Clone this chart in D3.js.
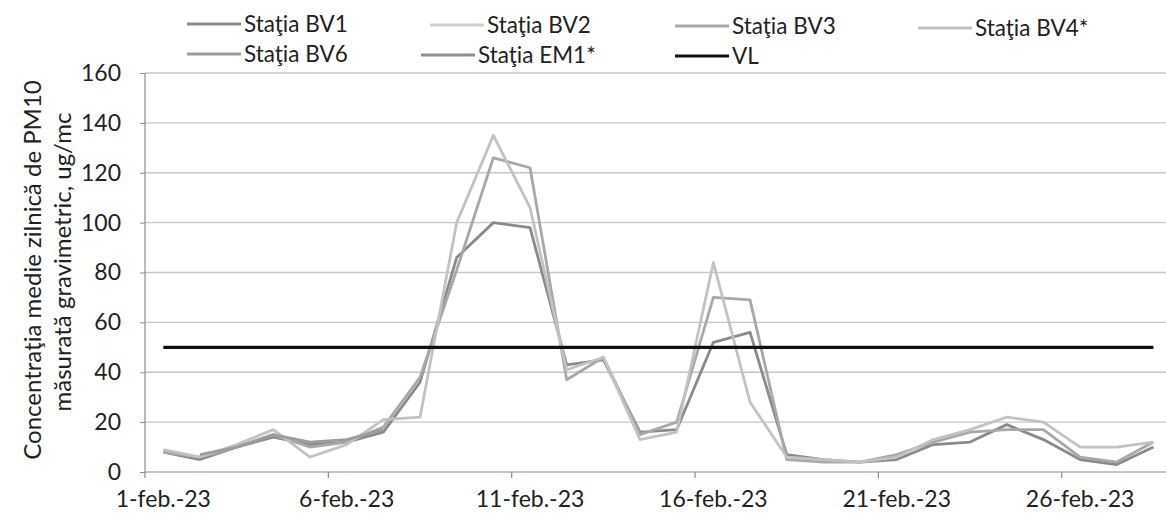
<!DOCTYPE html>
<html>
<head>
<meta charset="utf-8">
<script src="https://cdn.jsdelivr.net/npm/d3@7"></script>
<style>
  body { margin: 0; background: #fff; }
  svg { display: block; font-family: Lato, 'Open Sans', sans-serif; }
</style>
</head>
<body>
<div id="chart"></div>
<script>
const days = [
  '1-feb.-23', '2-feb.-23', '3-feb.-23', '4-feb.-23', '5-feb.-23', '6-feb.-23', '7-feb.-23',
  '8-feb.-23', '9-feb.-23', '10-feb.-23', '11-feb.-23', '12-feb.-23', '13-feb.-23', '14-feb.-23',
  '15-feb.-23', '16-feb.-23', '17-feb.-23', '18-feb.-23', '19-feb.-23', '20-feb.-23', '21-feb.-23',
  '22-feb.-23', '23-feb.-23', '24-feb.-23', '25-feb.-23', '26-feb.-23', '27-feb.-23', '28-feb.-23'
]
const labelDays = ['1-feb.-23', '6-feb.-23', '11-feb.-23', '16-feb.-23', '21-feb.-23', '26-feb.-23']
const yTicks = [0, 20, 40, 60, 80, 100, 120, 140, 160]

// daily PM10, ug/mc (null = no data)
const bv1 = [8, 5, 10, 14, 11, 12, 16, 36, 86, 100, 98, 43, 45, 16, 17, 52, 56, 7, 5, 4, 5, 11, 12, 19, 13, 5, 3, 10]
const bv2 = [null, null, null, null, null, null, null, null, null, null, null, null, null, null,
  null, null, null, null, null, null, null, null, null, null, null, null, null, null]
const bv3 = [8, 6, 10, 15, 10, 12, 18, 38, 81, 126, 122, 37, 46, 15, 20, 70, 69, 5, 4, 4, 7, 12, 16, 17, 17, 6, 4, 12]
const bv4 = [9, 6, 11, 17, 6, 11, 21, 22, 100, 135, 106, 41, 46, 13, 16, 84, 28, 6, 5, 4, 6, 13, 17, 22, 20, 10, 10, 12]
const bv6 = [null, 7, 10, 15, 12, 13, 17, null, null, null, null, null, null, null,
  null, null, null, null, null, null, null, null, null, null, null, null, null, null]
const em1 = [null, null, null, null, null, null, null, null, null, null, null, null, null, null,
  null, null, null, null, null, null, null, null, null, null, null, null, null, null]
const vl = [50, 50, 50, 50, 50, 50, 50, 50, 50, 50, 50, 50, 50, 50,
  50, 50, 50, 50, 50, 50, 50, 50, 50, 50, 50, 50, 50, 50]

const series = [
  { name: 'Staţia BV1', values: bv1, color: '#8a8a8a', width: 2.8 },
  { name: 'Staţia BV2', values: bv2, color: '#cfcfcf', width: 2.8 },
  { name: 'Staţia BV3', values: bv3, color: '#a8a8a8', width: 2.8 },
  { name: 'Staţia BV4*', values: bv4, color: '#c2c2c2', width: 2.8 },
  { name: 'Staţia BV6', values: bv6, color: '#9c9c9c', width: 2.8 },
  { name: 'Staţia EM1*', values: em1, color: '#8f8f8f', width: 2.8 },
  { name: 'VL', values: vl, color: '#111', width: 3.2 }
]

const width = 1166
const height = 529
const plot = { left: 145, top: 73, bottom: 472, right: 145 + 28 * 36.67 }

const svg = d3
  .select('#chart')
  .append('svg')
  .attr('width', width)
  .attr('height', height)

const xPositionScale = d3.scaleBand().domain(days).range([plot.left, plot.right])
const yPositionScale = d3.scaleLinear().domain([0, 160]).range([plot.bottom, plot.top])
const half = xPositionScale.bandwidth() / 2

// gridlines
svg
  .append('g')
  .selectAll('line')
  .data(yTicks.slice(1))
  .enter()
  .append('line')
  .attr('x1', plot.left)
  .attr('x2', width)
  .attr('y1', d => yPositionScale(d))
  .attr('y2', d => yPositionScale(d))
  .attr('stroke', '#c6c6c6')
  .attr('stroke-width', 1.3)

// y axis
const yAxis = d3.axisLeft(yPositionScale).tickValues(yTicks).tickSize(5).tickPadding(19)
svg
  .append('g')
  .attr('class', 'axis y-axis')
  .attr('transform', 'translate(' + plot.left + ',0)')
  .call(yAxis)

// x axis: labels at category centres, tick marks at category boundaries
const xAxis = d3.axisBottom(xPositionScale).tickValues(labelDays).tickSize(0).tickPadding(19)
svg
  .append('g')
  .attr('class', 'axis x-axis')
  .attr('transform', 'translate(0,' + plot.bottom + ')')
  .call(xAxis)

svg
  .append('g')
  .selectAll('line')
  .data(labelDays)
  .enter()
  .append('line')
  .attr('x1', d => xPositionScale(d))
  .attr('x2', d => xPositionScale(d))
  .attr('y1', plot.bottom)
  .attr('y2', plot.bottom + 6)
  .attr('stroke', '#8c8c8c')
  .attr('stroke-width', 1.2)

svg.selectAll('.axis .domain').attr('stroke', '#8c8c8c').attr('stroke-width', 1.2)
svg.selectAll('.y-axis .domain').attr('d', 'M0,' + plot.top + 'V' + plot.bottom)
svg.selectAll('.x-axis .domain').attr('d', 'M' + plot.left + ',0H' + width)
svg.selectAll('.axis .tick line').attr('stroke', '#8c8c8c')
svg
  .selectAll('.axis text')
  .attr('font-size', 23)
  .attr('font-family', 'Lato, sans-serif')
  .attr('fill', '#222')

// lines
const line = d3
  .line()
  .defined(d => d.value !== null)
  .x(d => xPositionScale(d.day) + half)
  .y(d => yPositionScale(d.value))

svg
  .append('g')
  .selectAll('path')
  .data(series)
  .enter()
  .append('path')
  .attr('d', d => line(d.values.map((v, i) => ({ day: days[i], value: v }))))
  .attr('fill', 'none')
  .attr('stroke', d => d.color)
  .attr('stroke-width', d => d.width)
  .attr('stroke-linejoin', 'round')

// legend
const legendPos = [
  { x: 187, y: 24 },
  { x: 430, y: 25 },
  { x: 675, y: 26 },
  { x: 918, y: 28 },
  { x: 187, y: 54 },
  { x: 421, y: 55 },
  { x: 675, y: 56 }
]

const legend = svg
  .append('g')
  .selectAll('g')
  .data(series)
  .enter()
  .append('g')
  .attr('transform', (d, i) => 'translate(' + legendPos[i].x + ',' + legendPos[i].y + ')')

legend
  .append('line')
  .attr('x1', 0)
  .attr('x2', 54)
  .attr('stroke', d => d.color)
  .attr('stroke-width', d => d.width)

legend
  .append('text')
  .attr('x', 57)
  .attr('dy', '0.35em')
  .attr('font-size', 22.5)
  .attr('fill', '#222')
  .text(d => d.name)

// y title
svg
  .append('text')
  .attr('transform', 'translate(33,270) rotate(-90)')
  .attr('text-anchor', 'middle')
  .attr('dy', '0.35em')
  .attr('font-size', 24)
  .attr('fill', '#222')
  .text('Concentraţia medie zilnică de PM10')

svg
  .append('text')
  .attr('transform', 'translate(63,262) rotate(-90)')
  .attr('text-anchor', 'middle')
  .attr('dy', '0.35em')
  .attr('font-size', 24)
  .attr('fill', '#222')
  .text('măsurată gravimetric, ug/mc')
</script>
</body>
</html>
